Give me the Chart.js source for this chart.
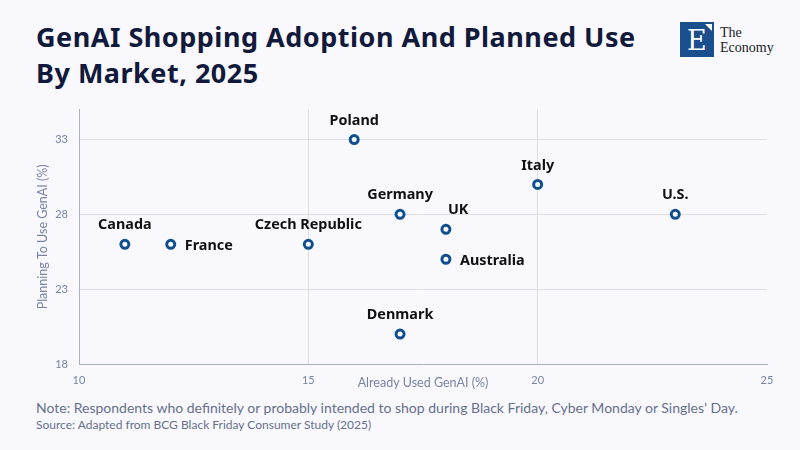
<!DOCTYPE html>
<html>
<head>
<meta charset="utf-8">
<script src="https://cdn.jsdelivr.net/npm/chart.js@4"></script>
<style>
  html, body { margin: 0; padding: 0; }
  body { width: 800px; height: 450px; background: #f8f8fd; position: relative; overflow: hidden; font-family: Lato, "Noto Sans", sans-serif; }
  h1 { position: absolute; left: 36px; top: 19px; margin: 0; font-family: "Noto Sans", sans-serif; font-size: 27px; line-height: 36px; font-weight: 700; color: #121a3b; letter-spacing: 0.5px; }
  .logo { position: absolute; left: 680px; top: 22px; width: 34px; height: 35px; background: #1b4e8c; }
  .logo span { position: absolute; left: 7px; top: 3px; color: #fff; font: 27px "DejaVu Serif", serif; }
  .logo i { position: absolute; right: 2px; top: 2px; width: 0; height: 0; border-top: 7px solid #fff; border-left: 7px solid transparent; }
  .brand { position: absolute; left: 720px; top: 25px; font: 14px/15px "Liberation Serif", "DejaVu Serif", serif; color: #222; }
  #wrap { position: absolute; left: 0; top: 92px; width: 800px; height: 303px; }
  .note { position: absolute; left: 36px; top: 399px; font-size: 14px; color: #66708c; }
  .src { position: absolute; left: 36px; top: 417px; font-size: 12px; color: #66708c; }
</style>
</head>
<body>
<h1>GenAI Shopping Adoption And Planned Use<br>By Market, 2025</h1>
<div class="logo"><span>E</span><i></i></div>
<div class="brand">The<br>Economy</div>
<div id="wrap"><canvas id="myChart"></canvas></div>
<div class="note">Note: Respondents who definitely or probably intended to shop during Black Friday, Cyber Monday or Singles’ Day.</div>
<div class="src">Source: Adapted from BCG Black Friday Consumer Study (2025)</div>
<script>
const markets = ["Poland", "Italy", "U.S.", "Germany", "UK", "Canada", "France", "Czech Republic", "Australia", "Denmark"];
const alreadyUsed = [16, 20, 23, 17, 18, 11, 12, 15, 18, 17];
const planningToUse = [33, 30, 28, 28, 27, 26, 26, 26, 25, 20];
const xTicks = [10, 15, 20, 25];
const yTicks = [18, 23, 28, 33];

// where each label sits relative to its point
const labelSide = ["top", "top", "top", "top", "topright", "top", "right", "top", "right", "top"];

const blue = "#0f4f8f";
const tickColor = "#7784a3";

const pointLabels = {
  id: "pointLabels",
  afterDatasetsDraw(chart) {
    const ctx = chart.ctx;
    const meta = chart.getDatasetMeta(0);
    ctx.save();
    ctx.font = "bold 14.4px 'Noto Sans', sans-serif";
    ctx.fillStyle = "#111";
    ctx.textBaseline = "middle";
    meta.data.forEach((pt, i) => {
      const side = labelSide[i];
      if (side === "right") {
        ctx.textAlign = "left";
        ctx.fillText(markets[i], pt.x + 14, pt.y + 2);
      } else if (side === "topright") {
        ctx.textAlign = "left";
        ctx.fillText(markets[i], pt.x + 2, pt.y - 19);
      } else {
        ctx.textAlign = "center";
        ctx.fillText(markets[i], pt.x, pt.y - 19);
      }
    });
    // axis titles
    const area = chart.chartArea;
    ctx.font = "12.5px Lato, 'Noto Sans', sans-serif";
    ctx.fillStyle = tickColor;
    ctx.textAlign = "center";
    ctx.fillText("Already Used GenAI (%)", (area.left + area.right) / 2, area.bottom + 19);
    ctx.translate(43, (area.top + area.bottom) / 2);
    ctx.rotate(-Math.PI / 2);
    ctx.fillText("Planning To Use GenAI (%)", 0, 0);
    ctx.restore();
  }
};

new Chart("myChart", {
  type: "scatter",
  data: {
    datasets: [{
      data: alreadyUsed.map((x, i) => ({ x: x, y: planningToUse[i] })),
      pointRadius: 4,
      pointHoverRadius: 4,
      borderWidth: 3,
      borderColor: blue,
      backgroundColor: "#ffffff"
    }]
  },
  options: {
    responsive: true,
    maintainAspectRatio: false,
    animation: false,
    layout: { padding: { top: 1, right: 33, left: 0, bottom: 0 } },
    plugins: { legend: { display: false }, tooltip: { enabled: false } },
    scales: {
      x: {
        type: "linear",
        min: 10,
        max: 25,
        afterBuildTicks: (s) => { s.ticks = xTicks.map(v => ({ value: v })); },
        afterFit: (s) => { s.height = 31; },
        grid: {
          drawTicks: false,
          color: (c) => (c.tick && c.tick.value === 25) ? "rgba(0,0,0,0)" : "#dcdfe8"
        },
        border: { color: "#a9b0c4", width: 1 },
        ticks: { color: tickColor, padding: 10, font: { family: "Lato", size: 11 } }
      },
      y: {
        type: "linear",
        min: 18,
        max: 35,
        afterBuildTicks: (s) => { s.ticks = yTicks.map(v => ({ value: v })); },
        afterFit: (s) => { s.width = 79; },
        grid: { drawTicks: false, color: "#dcdfe8" },
        border: { color: "#a9b0c4", width: 1 },
        ticks: { color: tickColor, padding: 11, font: { family: "Lato", size: 11 } }
      }
    }
  },
  plugins: [pointLabels]
});
</script>
</body>
</html>
